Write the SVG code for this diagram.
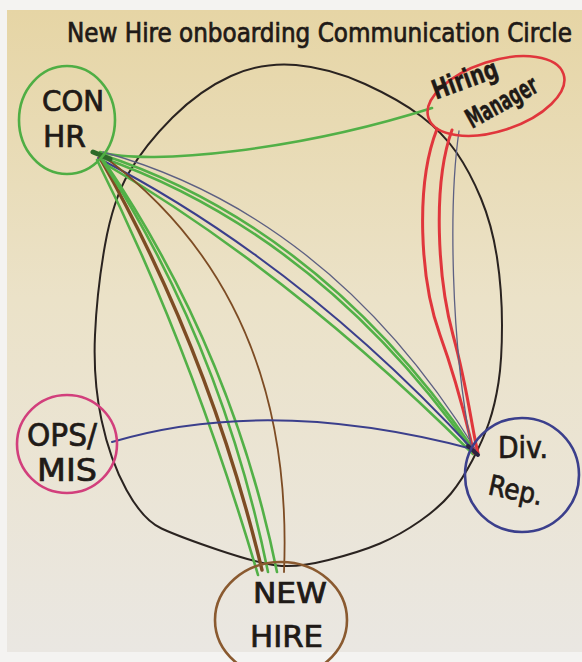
<svg xmlns="http://www.w3.org/2000/svg" width="582" height="662" viewBox="0 0 582 662">
  <defs>
    <linearGradient id="paper" x1="0" y1="0" x2="0" y2="1">
      <stop offset="0" stop-color="#e6d5a5"/>
      <stop offset="0.45" stop-color="#ebe2c8"/>
      <stop offset="1" stop-color="#eae7e2"/>
    </linearGradient>
    <style>
      .hand { font-family: "Liberation Sans Narrow", "DejaVu Sans Condensed", "Liberation Sans", sans-serif; fill: #1f1a17; stroke: #1f1a17; stroke-width: 0.7; font-weight: normal; }
      .heavy { font-weight: bold; stroke-width: 0.4; }
      .ring { fill: none; stroke-width: 2.6; }
      .c { fill: none; stroke-linecap: round; }
      .green { stroke: #52b047; stroke-width: 2.6; }
      .brown { stroke: #7d4c24; }
      .red { stroke: #e0363c; stroke-width: 3; }
      .blue { stroke: #3b3f8c; stroke-width: 2; }
      .grey { stroke: #5d6082; stroke-width: 1.3; }
    </style>
  </defs>

  <rect x="0" y="0" width="582" height="662" fill="#f4f3f1"/>
  <rect x="7" y="10" width="575" height="642" fill="url(#paper)"/>

  <g id="title">
    <text class="hand" x="67" y="42" font-size="26" textLength="505" lengthAdjust="spacingAndGlyphs">New Hire onboarding Communication Circle</text>
  </g>

  <g id="communication-circle">
    <path d="M296,65 Q330,68 365,84 Q400,100 421.5,116.5 Q443,133 456.5,152.5 Q470,172 481,198.5 Q492,225 497,257.5 Q502,290 502,325 Q502,360 498.5,382.5 Q495,405 489,422.5 Q483,440 472.5,460 Q462,480 451,493.5 Q440,507 420,521 Q400,535 380,543.5 Q360,552 328.5,560 Q297,568 277,565.5 Q257,563 218.5,550 Q180,537 161.5,528.5 Q143,520 126.5,490 Q110,460 101.5,420 Q93,380 95,335 Q97,290 105,245 Q113,200 129,172.5 Q145,145 172.5,117.5 Q200,90 231,76 Q262,62 296,65 Z" fill="none" stroke="#2a2320" stroke-width="2"/>
  </g>

  <g id="connectors">
    <!-- CON HR to Hiring Manager -->
    <path class="c green" d="M100,152 C150,166 300,150 432,108"/>
    <!-- CON HR to Div. Rep. -->
    <path class="c grey" d="M103,152 Q330,215 476,450"/>
    <path class="c green" stroke-width="3" d="M100,154 Q320,226 474,450"/>
    <path class="c green" d="M100,157 Q318,233 473,452"/>
    <path class="c blue" d="M98,158 Q300,262 475,452"/>
    <path class="c green" d="M102,162 Q290,272 473,454"/>
    <!-- CON HR to New Hire -->
    <path class="c green" d="M97,160 Q190,345 258,575"/>
    <path class="c brown" stroke-width="3.4" d="M100,158 Q209,350 262,570"/>
    <path class="c green" d="M102,160 Q222,345 268,572"/>
    <path class="c green" d="M104,161 Q232,350 277,572"/>
    <path class="c brown" stroke-width="1.8" d="M106,158 Q295,300 284,572"/>
    <!-- OPS/MIS to Div. Rep. -->
    <path class="c blue" d="M112,442 Q270,395 476,450"/>
    <!-- Hiring Manager to Div. Rep. -->
    <path class="c red" d="M437,129 C415,185 420,280 440,335 S468,430 474,453"/>
    <path class="c red" d="M452,130 C432,185 438,280 453,335 S472,430 478,453"/>
    <path class="c grey" d="M459,131 C449,200 450,340 472,450"/>
    <!-- hubs -->
    <path class="c" d="M93,152 L110,159" stroke="#2d6a2a" stroke-width="5"/>
    <path class="c" d="M468,446 L478,455" stroke="#2a2440" stroke-width="4"/>
  </g>

  <g id="con-hr">
    <ellipse class="ring" cx="67" cy="120" rx="48" ry="54" stroke="#4fae44"/>
    <text class="hand" x="42" y="111" font-size="28" textLength="62" lengthAdjust="spacingAndGlyphs">CON</text>
    <text class="hand" x="43" y="147" font-size="31" textLength="43" lengthAdjust="spacingAndGlyphs">HR</text>
  </g>

  <g id="hiring-manager">
    <ellipse class="ring" cx="496" cy="96" rx="71" ry="35" transform="rotate(-18 496 96)" stroke="#e0363c"/>
    <text class="hand heavy" x="468" y="88" font-size="27" text-anchor="middle" textLength="68" lengthAdjust="spacingAndGlyphs" transform="rotate(-20 468 88)">Hiring</text>
    <text class="hand heavy" x="506" y="110" font-size="27" text-anchor="middle" textLength="78" lengthAdjust="spacingAndGlyphs" transform="rotate(-29 506 110)">Manager</text>
  </g>

  <g id="ops-mis">
    <ellipse class="ring" cx="67" cy="444" rx="50" ry="49" stroke="#d23f7c"/>
    <text class="hand" x="27" y="446" font-size="32" textLength="70" lengthAdjust="spacingAndGlyphs">OPS/</text>
    <text class="hand" x="37" y="481" font-size="32" textLength="60" lengthAdjust="spacingAndGlyphs">MIS</text>
  </g>

  <g id="div-rep">
    <ellipse class="ring" cx="522" cy="475" rx="57" ry="57" stroke="#3b3f8c"/>
    <text class="hand" x="498" y="458" font-size="30" textLength="50" lengthAdjust="spacingAndGlyphs">Div.</text>
    <text class="hand" x="487" y="494" font-size="28" textLength="55" lengthAdjust="spacingAndGlyphs" transform="rotate(12 487 494)">Rep.</text>
  </g>

  <g id="new-hire">
    <ellipse class="ring" cx="281" cy="620" rx="66" ry="58" stroke="#8a5a30"/>
    <text class="hand" x="253" y="603" font-size="28" textLength="74" lengthAdjust="spacingAndGlyphs">NEW</text>
    <text class="hand" x="250" y="647" font-size="30" textLength="73" lengthAdjust="spacingAndGlyphs">HIRE</text>
  </g>
</svg>
